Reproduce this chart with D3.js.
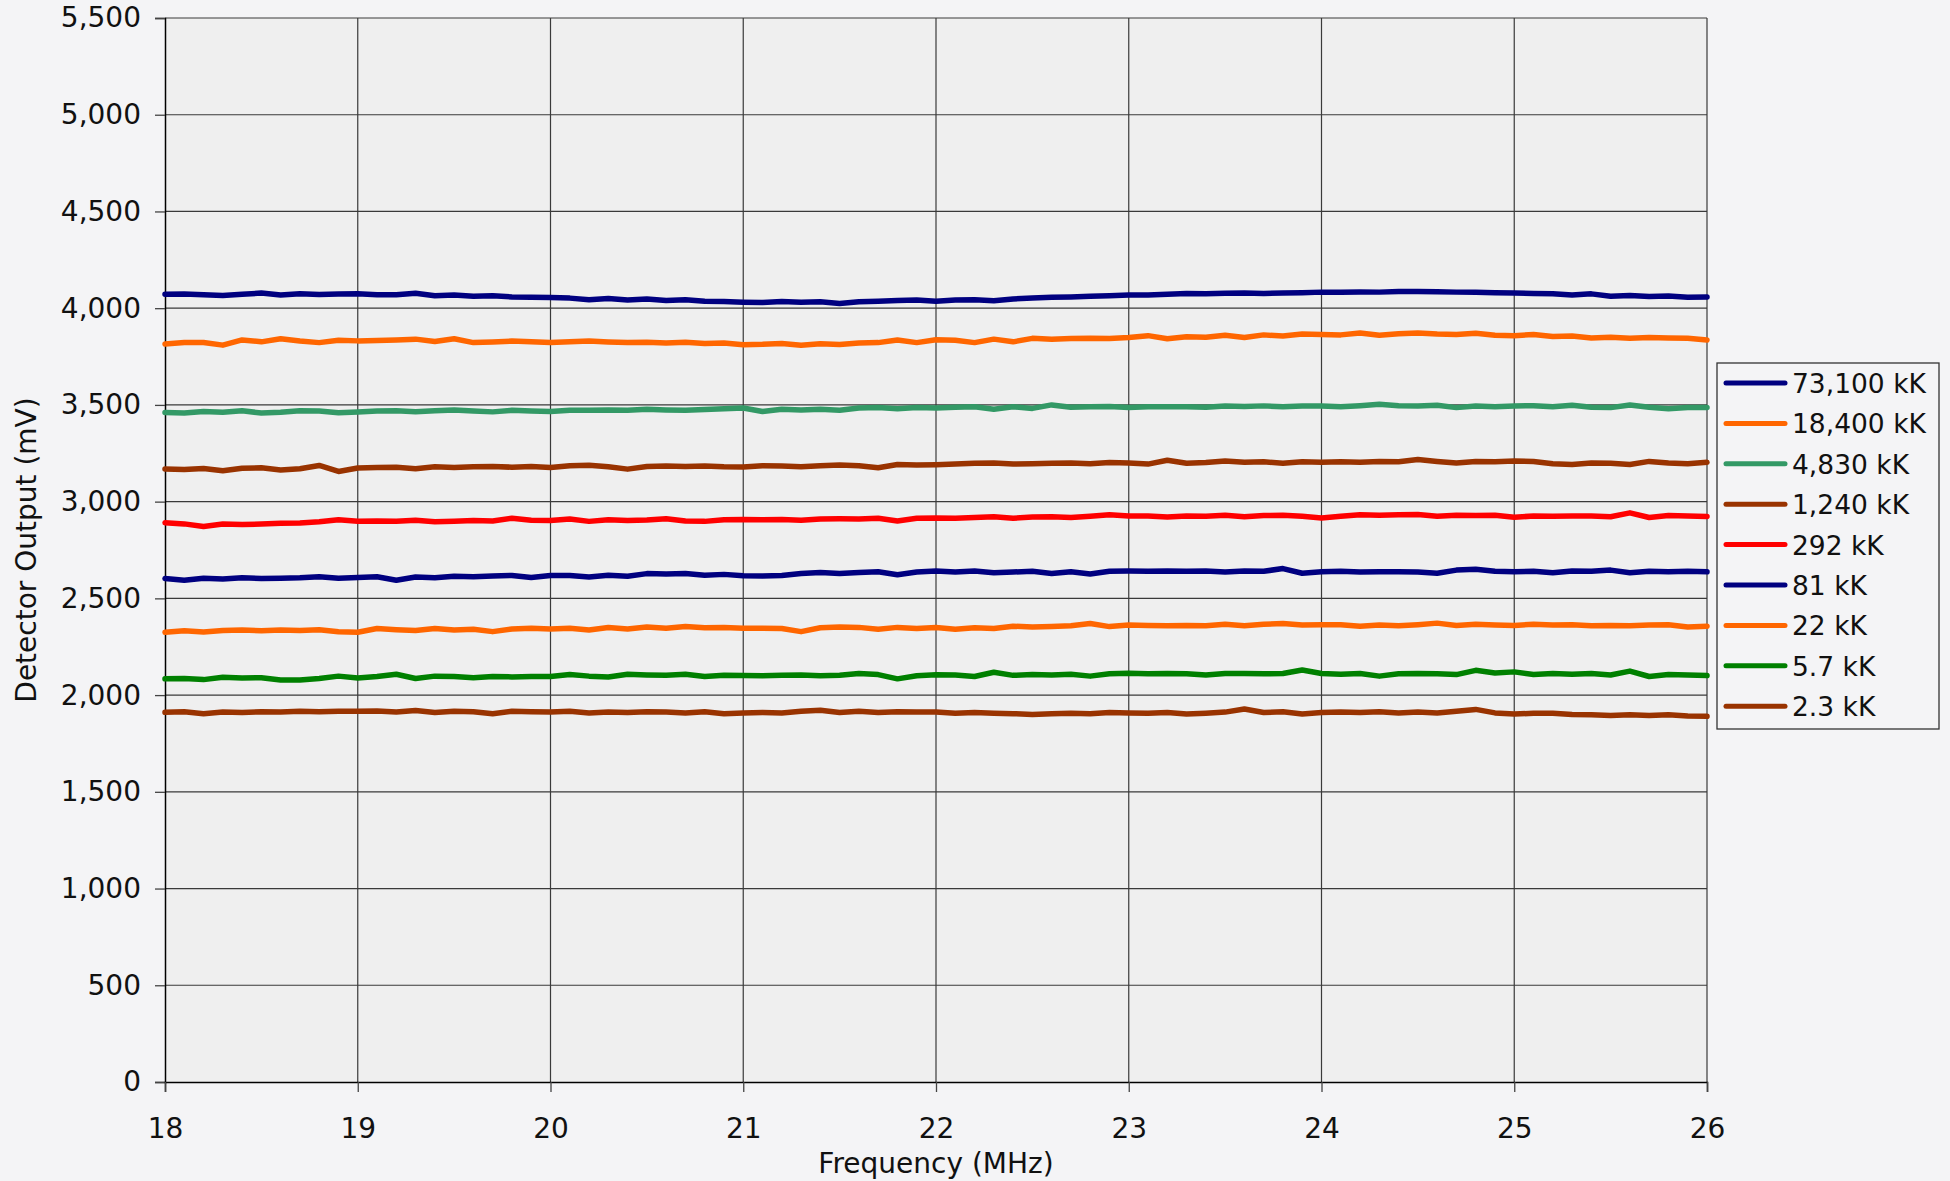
<!DOCTYPE html>
<html>
<head>
<meta charset="utf-8">
<script src="https://cdn.jsdelivr.net/npm/d3@7"></script>
<style>
  html, body { margin: 0; padding: 0; background: #f4f4f6; }
  svg { display: block; font-family: "DejaVu Sans", Verdana, sans-serif; }
</style>
</head>
<body>
<svg id="chart"></svg>
<script>
// frequency samples in MHz (18.0 .. 26.0, every 0.1)
let freq = d3.range(0, 81).map(i => 18 + i / 10);

let seriesNames = ["73,100 kK", "18,400 kK", "4,830 kK", "1,240 kK", "292 kK", "81 kK", "22 kK", "5.7 kK", "2.3 kK"];
let seriesColors = ["#000080", "#ff6600", "#339966", "#993300", "#ff0000", "#000080", "#ff6600", "#008000", "#993300"];

let s73100 = [4072,4073,4070,4066,4072,4078,4068,4074,4071,4073,4074,4070,4069,4077,4064,4068,4062,4064,4058,4057,
  4055,4052,4043,4050,4042,4048,4040,4044,4036,4034,4031,4030,4034,4031,4033,4024,4033,4036,4040,4042,
  4036,4042,4044,4038,4048,4052,4056,4058,4062,4064,4068,4068,4072,4076,4074,4077,4078,4076,4078,4080,
  4083,4082,4084,4083,4086,4086,4085,4083,4082,4080,4078,4076,4075,4068,4074,4062,4066,4060,4063,4057,4058];
let s18400 = [3815,3822,3823,3809,3836,3826,3842,3830,3822,3834,3831,3833,3836,3840,3828,3842,3822,3825,3830,3826,
  3823,3826,3830,3825,3822,3824,3820,3824,3817,3820,3811,3813,3818,3808,3816,3812,3820,3822,3836,3822,
  3837,3834,3822,3840,3826,3844,3840,3843,3845,3843,3848,3858,3842,3852,3850,3860,3848,3862,3856,3866,
  3864,3862,3872,3860,3868,3872,3866,3864,3870,3860,3858,3864,3854,3856,3846,3850,3845,3848,3846,3844,3836];
let s4830 = [3461,3458,3466,3462,3470,3458,3462,3470,3468,3460,3463,3468,3470,3465,3470,3474,3468,3464,3472,3468,
  3466,3472,3472,3474,3472,3478,3474,3472,3476,3480,3484,3466,3478,3474,3478,3472,3484,3486,3480,3486,
  3484,3488,3490,3478,3490,3482,3500,3488,3490,3492,3487,3490,3491,3490,3488,3494,3492,3495,3490,3494,
  3494,3490,3496,3504,3496,3494,3498,3486,3494,3490,3494,3496,3490,3498,3488,3486,3500,3488,3480,3486,3487];
let s1240 = [3169,3166,3171,3160,3173,3175,3164,3170,3187,3156,3174,3177,3178,3170,3180,3176,3180,3182,3178,3182,
  3177,3186,3188,3180,3168,3182,3184,3182,3184,3180,3179,3186,3184,3180,3186,3190,3186,3175,3192,3190,
  3191,3194,3198,3200,3194,3196,3199,3200,3196,3202,3200,3194,3214,3198,3202,3210,3204,3206,3198,3206,
  3203,3206,3204,3208,3206,3218,3208,3200,3208,3206,3210,3208,3196,3192,3200,3198,3192,3208,3200,3196,3203];
let s292 = [2891,2885,2872,2884,2882,2884,2888,2890,2896,2906,2899,2900,2898,2904,2896,2898,2902,2900,2914,2904,
  2902,2910,2898,2906,2902,2905,2912,2900,2898,2906,2908,2906,2908,2904,2910,2911,2910,2914,2900,2914,
  2916,2914,2918,2922,2914,2920,2922,2918,2924,2932,2926,2926,2920,2926,2924,2930,2922,2928,2930,2924,
  2916,2924,2932,2930,2932,2933,2924,2930,2928,2930,2919,2926,2924,2926,2926,2922,2942,2918,2928,2926,2923];
let s81 = [2603,2594,2604,2600,2606,2603,2604,2606,2612,2604,2608,2612,2594,2610,2606,2614,2612,2616,2618,2608,
  2618,2618,2610,2620,2614,2628,2626,2628,2620,2624,2617,2616,2618,2628,2634,2628,2634,2638,2622,2636,
  2641,2636,2642,2632,2636,2640,2628,2638,2626,2640,2641,2640,2642,2640,2641,2636,2642,2640,2654,2630,
  2638,2640,2636,2638,2638,2636,2630,2646,2650,2640,2638,2640,2632,2642,2640,2646,2632,2640,2638,2640,2637];
let s22 = [2325,2332,2326,2334,2337,2332,2336,2334,2338,2327,2325,2344,2338,2334,2344,2337,2340,2328,2342,2345,
  2342,2346,2336,2349,2342,2352,2346,2354,2348,2350,2345,2346,2344,2328,2348,2352,2350,2340,2350,2344,
  2349,2340,2348,2344,2356,2352,2354,2358,2370,2354,2362,2360,2358,2360,2358,2366,2358,2366,2370,2362,
  2363,2364,2356,2362,2358,2364,2372,2360,2366,2362,2360,2366,2362,2364,2358,2360,2358,2362,2364,2352,2356];
let s5_7 = [2084,2086,2080,2092,2088,2090,2078,2078,2086,2098,2088,2096,2108,2086,2098,2096,2090,2096,2094,2096,
  2096,2106,2098,2094,2108,2104,2102,2108,2096,2102,2101,2100,2102,2104,2100,2102,2112,2106,2084,2100,
  2105,2104,2096,2118,2102,2106,2104,2108,2098,2110,2113,2110,2112,2110,2104,2112,2112,2110,2112,2130,
  2112,2108,2112,2098,2110,2112,2110,2106,2128,2114,2120,2106,2112,2108,2112,2104,2124,2096,2106,2104,2101];
let s2_3 = [1911,1914,1904,1912,1910,1914,1912,1916,1914,1916,1916,1918,1912,1920,1910,1916,1914,1904,1916,1914,
  1912,1916,1908,1912,1910,1914,1912,1908,1914,1904,1907,1910,1908,1916,1922,1910,1916,1910,1914,1912,
  1912,1906,1910,1906,1904,1900,1904,1906,1904,1910,1908,1906,1910,1902,1906,1912,1928,1910,1914,1902,
  1910,1912,1910,1914,1908,1912,1908,1916,1926,1908,1902,1906,1906,1900,1898,1895,1898,1894,1898,1892,1890];

let seriesValues = [s73100, s18400, s4830, s1240, s292, s81, s22, s5_7, s2_3];

let xTicks = [18, 19, 20, 21, 22, 23, 24, 25, 26];
let yTicks = [0, 500, 1000, 1500, 2000, 2500, 3000, 3500, 4000, 4500, 5000, 5500];

let width = 1950;
let height = 1181;
let plotLeft = 165, plotRight = 1707, plotTop = 18, plotBottom = 1082;

let svg = d3.select("#chart").attr("width", width).attr("height", height);

let xScale = d3.scaleLinear().domain([18, 26]).range([plotLeft, plotRight]);
let yScale = d3.scaleLinear().domain([0, 5500]).range([plotBottom, plotTop]);

// page and plot background
svg.append("rect").attr("width", width).attr("height", height).attr("fill", "#f4f4f6");
svg.append("rect")
  .attr("x", plotLeft).attr("y", plotTop)
  .attr("width", plotRight - plotLeft).attr("height", plotBottom - plotTop)
  .attr("fill", "#efefef");

// grid
svg.append("g").selectAll("line")
  .data(yTicks.slice(1))
  .enter().append("line")
  .attr("x1", plotLeft).attr("x2", plotRight)
  .attr("y1", d => yScale(d)).attr("y2", d => yScale(d))
  .attr("stroke", "#3a3a3a").attr("stroke-width", 1.2);
svg.append("g").selectAll("line")
  .data(xTicks.slice(1))
  .enter().append("line")
  .attr("y1", plotTop).attr("y2", plotBottom)
  .attr("x1", d => xScale(d)).attr("x2", d => xScale(d))
  .attr("stroke", "#3a3a3a").attr("stroke-width", 1.2);

// axes
let fmt = d3.format(",");
let yAxis = d3.axisLeft(yScale).tickValues(yTicks).tickFormat(fmt).tickSize(10).tickPadding(14);
let xAxis = d3.axisBottom(xScale).tickValues(xTicks).tickFormat(d3.format("d")).tickSize(10).tickPadding(26);

let gy = svg.append("g").attr("transform", "translate(" + plotLeft + ",0)").call(yAxis);
let gx = svg.append("g").attr("transform", "translate(0," + plotBottom + ")").call(xAxis);
[gy, gx].forEach(g => {
  g.select(".domain").attr("stroke", "#000").attr("stroke-width", 1.5);
  g.selectAll(".tick line").attr("stroke", "#444").attr("stroke-width", 1.3);
  g.selectAll("text").attr("fill", "#111").style("font-size", "28px")
    .style("font-family", "'DejaVu Sans', Verdana, sans-serif");
});

// series lines
let line = d3.line()
  .x((d, i) => xScale(freq[i]))
  .y(d => yScale(d))
  .curve(d3.curveLinear);

svg.append("g").selectAll("path")
  .data(seriesValues)
  .enter().append("path")
  .attr("d", d => line(d))
  .attr("fill", "none")
  .attr("stroke", (d, i) => seriesColors[i])
  .attr("stroke-width", 5.5)
  .attr("stroke-linejoin", "round")
  .attr("stroke-linecap", "round");

// axis titles
svg.append("text")
  .attr("x", (plotLeft + plotRight) / 2).attr("y", 1173)
  .attr("text-anchor", "middle")
  .style("font-size", "28px").attr("fill", "#111")
  .text("Frequency (MHz)");
svg.append("text")
  .attr("transform", "translate(36," + ((plotTop + plotBottom) / 2) + ") rotate(-90)")
  .attr("text-anchor", "middle")
  .style("font-size", "28px").attr("fill", "#111")
  .text("Detector Output (mV)");

// legend
let legend = svg.append("g");
legend.append("rect")
  .attr("x", 1717).attr("y", 363).attr("width", 222).attr("height", 366)
  .attr("fill", "#f4f4f6").attr("stroke", "#333").attr("stroke-width", 1.3);
let rows = legend.selectAll("g.row")
  .data(seriesNames)
  .enter().append("g")
  .attr("class", "row")
  .attr("transform", (d, i) => "translate(0," + (383 + i * 40.4) + ")");
rows.append("line")
  .attr("x1", 1726).attr("x2", 1785)
  .attr("stroke", (d, i) => seriesColors[i])
  .attr("stroke-width", 5).attr("stroke-linecap", "round");
rows.append("text")
  .attr("x", 1792).attr("y", 10)
  .style("font-size", "26.5px").attr("fill", "#111")
  .text(d => d);
</script>
</body>
</html>
